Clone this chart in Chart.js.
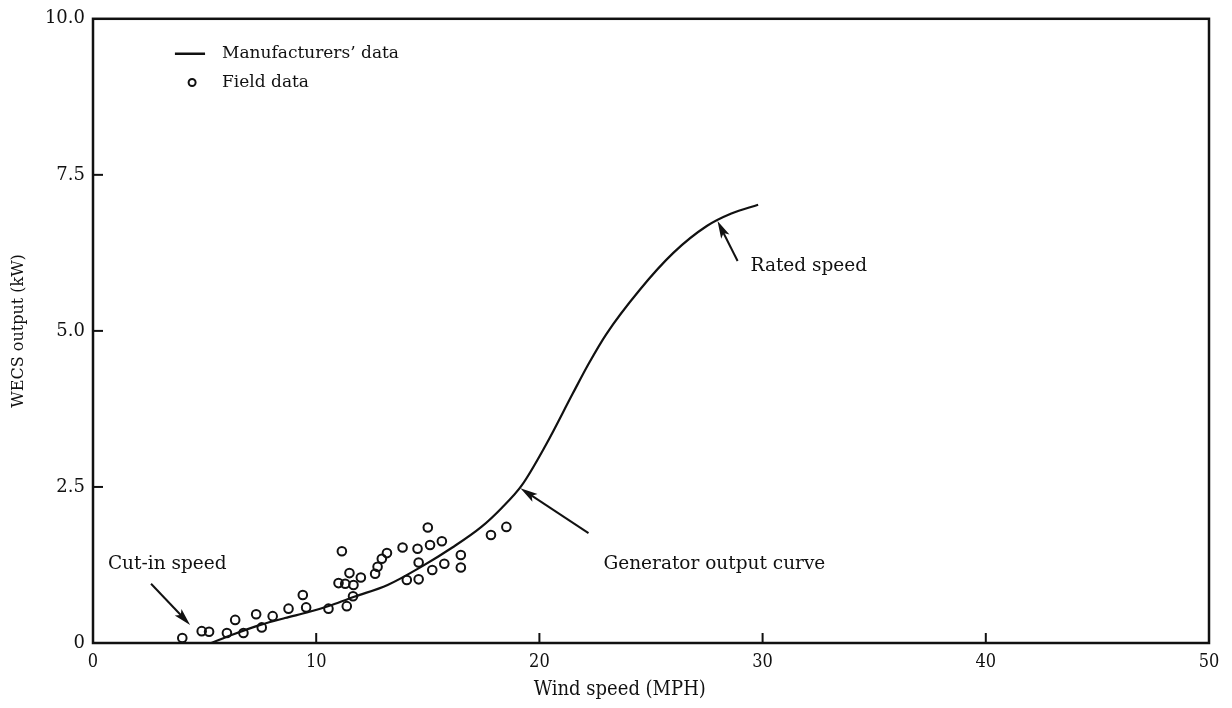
<!DOCTYPE html>
<html>
<head>
<meta charset="utf-8">
<script src="https://cdn.jsdelivr.net/npm/chart.js@4.4.1/dist/chart.umd.min.js"></script>
<style>
	html, body { margin: 0; padding: 0; background: #fff; }
	#wrap { width: 1232px; height: 708px; }
</style>
</head>
<body>
<div id="wrap"><canvas id="chart" width="1232" height="708"></canvas></div>
<script>
// manufacturers' curve (wind speed MPH, output kW)
const curveX = [5.3, 6.3, 7.5, 8.6, 9.7, 10.7, 11.7, 13.2, 14.7, 16.1, 17.4, 18.3, 19.2, 20.3, 21.5, 22.2, 23.0, 24.5, 26.0, 27.5, 28.6, 29.8];
const curveY = [0, 0.14, 0.29, 0.40, 0.50, 0.61, 0.74, 0.93, 1.22, 1.53, 1.86, 2.16, 2.52, 3.18, 4.0, 4.47, 4.95, 5.66, 6.25, 6.68, 6.88, 7.02];

// field data points
const fieldX = [4.0, 4.87, 5.2, 6.0, 6.37, 6.74, 7.31, 7.56, 8.05, 8.76, 9.4, 9.55, 10.55, 11.37,
	11.15, 11.0, 11.3, 11.67, 11.49, 12.0, 11.65, 12.64, 12.75, 12.94, 13.17, 13.87, 14.06, 14.54, 14.59, 14.59,
	15.0, 15.1, 15.2, 15.63, 15.74, 16.48, 16.48, 17.83, 18.52];
const fieldY = [0.08, 0.19, 0.18, 0.16, 0.37, 0.16, 0.46, 0.25, 0.43, 0.55, 0.77, 0.57, 0.55, 0.59,
	1.47, 0.96, 0.95, 0.93, 1.12, 1.05, 0.75, 1.11, 1.22, 1.35, 1.44, 1.53, 1.01, 1.51, 1.29, 1.02,
	1.85, 1.57, 1.17, 1.63, 1.27, 1.41, 1.21, 1.73, 1.86];

const xTicks = [0, 10, 20, 30, 40, 50];
const yTicks = [0, 2.5, 5, 7.5, 10];
const yTickLabels = ['0', '2.5', '5.0', '7.5', '10.0'];

const seriesNames = ['Manufacturers’ data', 'Field data'];
const xTitle = 'Wind speed (MPH)';

// text notes with arrows, in data units
const notes = [
	{ text: 'Cut-in speed', tx: 0.67, ty: 1.27, ax: 2.6, ay: 0.95, bx: 4.35, by: 0.29 },
	{ text: 'Generator output curve', tx: 22.87, ty: 1.27, ax: 22.2, ay: 1.76, bx: 19.15, by: 2.48 },
	{ text: 'Rated speed', tx: 29.46, ty: 6.04, ax: 28.88, ay: 6.12, bx: 27.98, by: 6.76 }
];

const serif = '"DejaVu Serif", "Liberation Serif", serif';
const narrow = '"DejaVu Serif Condensed", "Liberation Serif", serif';

function arrow(ctx, x1, y1, x2, y2) {
	const ang = Math.atan2(y2 - y1, x2 - x1);
	const len = 18, w = 0.26;
	ctx.beginPath();
	ctx.moveTo(x1, y1);
	ctx.lineTo(x2 - Math.cos(ang) * len * 0.6, y2 - Math.sin(ang) * len * 0.6);
	ctx.stroke();
	ctx.beginPath();
	ctx.moveTo(x2, y2);
	ctx.lineTo(x2 - len * Math.cos(ang - w), y2 - len * Math.sin(ang - w));
	ctx.lineTo(x2 - len * 0.75 * Math.cos(ang), y2 - len * 0.75 * Math.sin(ang));
	ctx.lineTo(x2 - len * Math.cos(ang + w), y2 - len * Math.sin(ang + w));
	ctx.closePath();
	ctx.fill();
}

const extras = {
	id: 'extras',
	afterDraw(chart) {
		const ctx = chart.ctx;
		const a = chart.chartArea;
		const xs = chart.scales.x, ys = chart.scales.y;
		ctx.save();
		ctx.strokeStyle = '#111';
		ctx.fillStyle = '#111';
		// frame
		ctx.lineWidth = 2.5;
		ctx.strokeRect(a.left, a.top, a.right - a.left, a.bottom - a.top);
		// inward ticks
		ctx.lineWidth = 2;
		xTicks.slice(1, -1).forEach(v => {
			const px = xs.getPixelForValue(v);
			ctx.beginPath(); ctx.moveTo(px, a.bottom); ctx.lineTo(px, a.bottom - 10); ctx.stroke();
		});
		yTicks.slice(1, -1).forEach(v => {
			const py = ys.getPixelForValue(v);
			ctx.beginPath(); ctx.moveTo(a.left, py); ctx.lineTo(a.left + 10, py); ctx.stroke();
		});
		// x axis title (sits left of centre in the original)
		ctx.font = '20px ' + narrow;
		ctx.textAlign = 'center';
		ctx.textBaseline = 'middle';
		ctx.fillText(xTitle, xs.getPixelForValue(23.6), a.bottom + 47);
		// legend
		ctx.font = '17px ' + serif;
		ctx.textAlign = 'left';
		ctx.lineWidth = 2.5;
		const ly1 = ys.getPixelForValue(9.44), ly2 = ys.getPixelForValue(8.98);
		ctx.beginPath();
		ctx.moveTo(xs.getPixelForValue(3.67), ly1);
		ctx.lineTo(xs.getPixelForValue(5.02), ly1);
		ctx.stroke();
		ctx.lineWidth = 2;
		ctx.beginPath();
		ctx.arc(xs.getPixelForValue(4.44), ly2, 3.5, 0, Math.PI * 2);
		ctx.stroke();
		ctx.fillText(seriesNames[0], xs.getPixelForValue(5.78), ly1);
		ctx.fillText(seriesNames[1], xs.getPixelForValue(5.78), ly2);
		// notes
		ctx.font = '18.5px ' + serif;
		ctx.lineWidth = 2;
		notes.forEach(n => {
			ctx.fillText(n.text, xs.getPixelForValue(n.tx), ys.getPixelForValue(n.ty));
			arrow(ctx, xs.getPixelForValue(n.ax), ys.getPixelForValue(n.ay),
				xs.getPixelForValue(n.bx), ys.getPixelForValue(n.by));
		});
		ctx.restore();
	}
};

const config = {
	type: 'scatter',
	data: {
		datasets: [
			{
				label: seriesNames[0],
				data: curveX.map((x, i) => ({ x: x, y: curveY[i] })),
				showLine: true,
				borderColor: '#111',
				borderWidth: 2.2,
				pointRadius: 0,
				cubicInterpolationMode: 'monotone',
				fill: false,
			},
			{
				label: seriesNames[1],
				data: fieldX.map((x, i) => ({ x: x, y: fieldY[i] })),
				showLine: false,
				borderColor: '#111',
				backgroundColor: 'rgba(0,0,0,0)',
				borderWidth: 2,
				pointRadius: 4.3,
			}
		]
	},
	options: {
		responsive: false,
		animation: false,
		layout: { padding: { top: 12, right: 23, left: 0, bottom: 0 } },
		plugins: {
			legend: { display: false },
			tooltip: { enabled: false },
		},
		scales: {
			x: {
				type: 'linear',
				min: 0,
				max: 50,
				afterBuildTicks: s => { s.ticks = xTicks.map(v => ({ value: v })); },
				afterFit: s => { s.height = 65; },
				grid: { display: false, drawTicks: false },
				border: { display: false },
				ticks: { color: '#111', padding: 9, font: { family: narrow, size: 18 } },
				title: { display: false },
			},
			y: {
				min: 0,
				max: 10,
				afterBuildTicks: s => { s.ticks = yTicks.map(v => ({ value: v })); },
				afterFit: s => { s.width = 93; },
				grid: { display: false, drawTicks: false },
				border: { display: false },
				ticks: {
					color: '#111',
					padding: 8,
					font: { family: serif, size: 18 },
					callback: (v, i) => yTickLabels[i],
				},
				title: {
					display: true,
					text: 'WECS output (kW)',
					color: '#111',
					font: { family: serif, size: 16 },
					padding: { top: 9, bottom: 0 },
				},
			}
		}
	},
	plugins: [extras]
};

new Chart(document.getElementById('chart'), config);
</script>
</body>
</html>
